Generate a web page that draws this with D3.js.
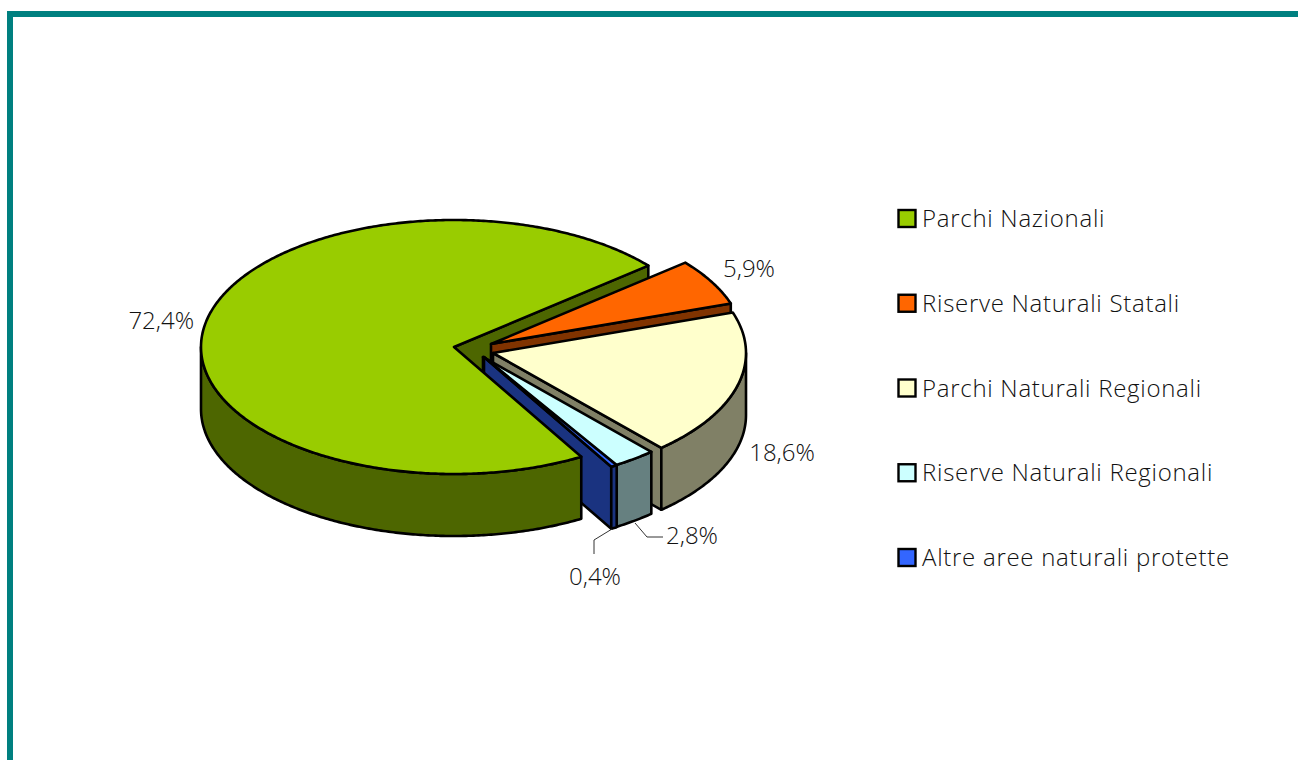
<!DOCTYPE html>
<html>
<head>
<meta charset="utf-8">
<script src="https://cdn.jsdelivr.net/npm/d3@7"></script>
<style>
  html, body { margin: 0; padding: 0; background: #fff; }
  svg { display: block; }
  text { font-family: "Open Sans", "Liberation Sans", sans-serif; font-weight: 300; font-size: 24px; fill: #111; }
  .legend-label { letter-spacing: 0.72px; }
</style>
</head>
<body>
<svg id="chart" width="1298" height="760"></svg>
<script>
// Protected natural areas: share of total surface by type
const categories = ["Parchi Nazionali", "Riserve Naturali Statali", "Parchi Naturali Regionali", "Riserve Naturali Regionali", "Altre aree naturali protette"];
const shares = [72.4, 5.9, 18.6, 2.8, 0.4];
const shareLabels = ["72,4%", "5,9%", "18,6%", "2,8%", "0,4%"];
const topColors = ["#99CC00", "#FF6600", "#FFFFCC", "#CCFFFF", "#3366FF"];
const wallColors = ["#4D6600", "#803300", "#808066", "#668080", "#1A3380"];

const width = 1298, height = 760;
const cx = 454, cy = 347, rx = 253, ry = 127, depth = 62;
const startDeg = 149.8;
// Pull-out of each slice from the pie centre, in pixels
const explode = [[0, 0], [37, -3], [39, 6], [29, 10], [30, 10]];
// Data label anchors [x, baseline y, text-anchor]
const labelPos = [[194, 329, "end"], [749, 277, "middle"], [782, 461, "middle"], [692, 544, "middle"], [595, 585, "middle"]];
const leaders = [null, null, null, [[635, 523], [647, 537], [663, 537]], [[612, 529], [594, 540], [594, 554]]];

const svg = d3.select("#chart");
const x = d3.scaleLinear().domain([-1, 1]).range([cx - rx, cx + rx]);
const y = d3.scaleLinear().domain([-1, 1]).range([cy - ry, cy + ry]);

const startAngle = startDeg * Math.PI / 180;
const arcs = d3.pie().sort(null).startAngle(startAngle).endAngle(startAngle + 2 * Math.PI)(shares);

const pathLine = d3.line();
const rimPoint = (t, d, h) => [x(Math.sin(t)) + d[0], y(-Math.cos(t)) + d[1] + h];
const rim = (a, b, d, h) => {
  const n = Math.max(2, Math.ceil(Math.abs(b - a) / 0.01));
  return d3.range(n + 1).map(i => rimPoint(a + (b - a) * i / n, d, h));
};
const closed = pts => pathLine(pts) + "Z";
const centre = (d, h) => [cx + d[0], cy + d[1] + h];

const marks = svg.append("g").attr("stroke", "#000").attr("stroke-width", 2.6).attr("stroke-linejoin", "round");

function drawTop(i) {
  const a = arcs[i], d = explode[i];
  marks.append("path").attr("fill", topColors[i])
    .attr("d", closed([centre(d, 0), ...rim(a.startAngle, a.endAngle, d, 0)]));
}
// Cut face along the clockwise end of a slice
function drawWall(i) {
  const a = arcs[i], d = explode[i];
  marks.append("path").attr("fill", wallColors[i])
    .attr("d", closed([centre(d, 0), rimPoint(a.endAngle, d, 0), rimPoint(a.endAngle, d, depth), centre(d, depth)]));
}
// Outer rim, only the part that faces the viewer (angles between 90 and 270 degrees)
function drawSide(i) {
  const a = arcs[i], d = explode[i];
  const turn = a.startAngle >= 2 * Math.PI ? 2 * Math.PI : 0;
  const lo = Math.max(a.startAngle - turn, Math.PI / 2), hi = Math.min(a.endAngle - turn, 3 * Math.PI / 2);
  if (hi <= lo) return;
  marks.append("path").attr("fill", wallColors[i])
    .attr("d", closed([...rim(lo, hi, d, 0), ...rim(hi, lo, d, depth)]));
}

// Painter's order: the large slice's cut face sits behind, its top and rim in front
drawWall(0);
[1, 2, 3, 4].forEach(i => { drawWall(i); drawSide(i); drawTop(i); });
drawSide(0);
drawTop(0);

// Data labels and leader lines
shareLabels.forEach((t, i) => {
  svg.append("text").attr("x", labelPos[i][0]).attr("y", labelPos[i][1])
    .attr("text-anchor", labelPos[i][2]).text(t);
  if (leaders[i]) {
    svg.append("path").attr("d", pathLine(leaders[i])).attr("fill", "none")
      .attr("stroke", "#333").attr("stroke-width", 1);
  }
});

// Legend
const rowY = d3.scalePoint().domain(categories).range([219, 558]);
const legend = svg.append("g");
categories.forEach((c, i) => {
  legend.append("rect").attr("x", 898.5).attr("y", rowY(c) - 9).attr("width", 17).attr("height", 17)
    .attr("fill", topColors[i]).attr("stroke", "#000").attr("stroke-width", 2.4);
  legend.append("text").attr("class", "legend-label").attr("x", 922).attr("y", rowY(c) + 8).text(c);
});

// Teal frame along the top and left edges
svg.append("path").attr("d", pathLine([[10, height], [10, 14], [width, 14]]))
  .attr("fill", "none").attr("stroke", "#008080").attr("stroke-width", 6);
</script>
</body>
</html>
